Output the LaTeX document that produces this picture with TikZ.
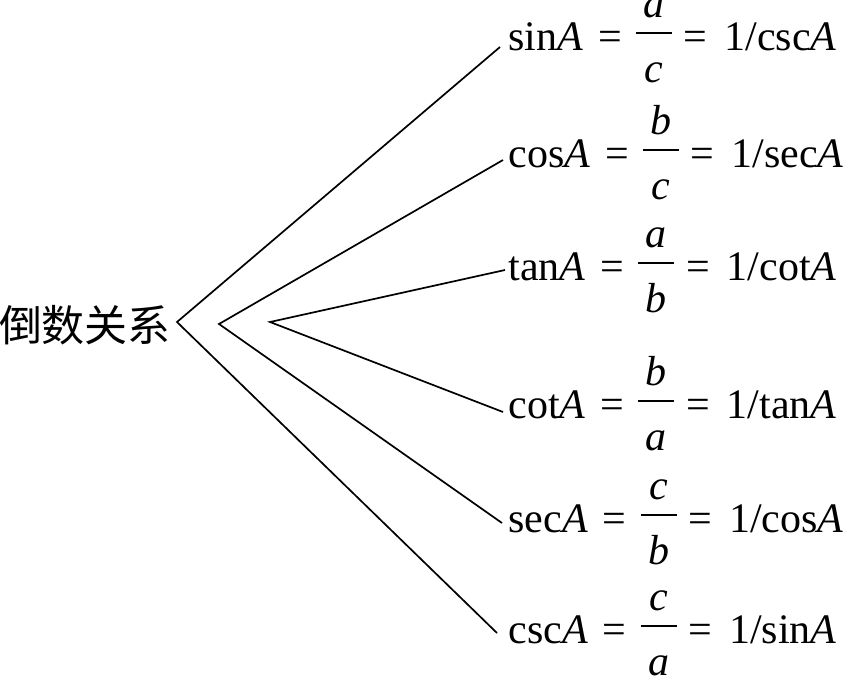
\documentclass[tikz,border=0pt]{standalone}
\usepackage{fontspec}
\setmainfont{Liberation Serif}
\newfontfamily\cjk{Noto Sans CJK SC}
\usetikzlibrary{calc}
\newcommand\myfr[2]{\rlap{\raisebox{16.5pt}{\makebox[18pt]{\itshape #1}}}\rlap{\raisebox{-16pt}{\makebox[18pt]{\itshape #2}}}\rule[8.1pt]{18pt}{0.9pt}}
\newcommand\trigrow[4]{#1\textit{A}\hspace{7.5pt}=\hspace{7pt}\myfr{#2}{#3}\hspace{6pt}=\hspace{8.5pt}1/#4\textit{A}}
\begin{document}
\begin{tikzpicture}[x=0.5pt,y=-0.5pt,
  formula/.style={anchor=base west,inner sep=0pt,font=\fontsize{21pt}{25pt}\selectfont},
  conn/.style={line width=0.85pt,line join=miter}]
\useasboundingbox (0,0) rectangle (843,676);
\node[inner sep=0pt,font=\cjk\fontsize{21.5pt}{24pt}\selectfont] (root) at (85,325) {倒数关系};
\node[formula] (f1) at (508,50)  {\trigrow{sin}{a}{c}{csc}};
\node[formula] (f2) at (508,167) {\trigrow{cos}{b}{c}{sec}};
\node[formula] (f3) at (508,280) {\trigrow{tan}{a}{b}{cot}};
\node[formula] (f4) at (508,418) {\trigrow{cot}{b}{a}{tan}};
\node[formula] (f5) at (508,532) {\trigrow{sec}{c}{b}{cos}};
\node[formula] (f6) at (508,643) {\trigrow{csc}{c}{a}{sin}};
\coordinate (v1) at (177,322);
\coordinate (v2) at (219,324);
\coordinate (v3) at (270,322);
\coordinate (e1) at ($(f1.base west)+(-8,-3)$);
\coordinate (e2) at ($(f2.base west)+(-5,-7)$);
\coordinate (e3) at ($(f3.base west)+(-3,-10)$);
\coordinate (e4) at ($(f4.base west)+(-5,-6)$);
\coordinate (e5) at ($(f5.base west)+(-6,-9)$);
\coordinate (e6) at ($(f6.base west)+(-11,-10)$);
\draw[conn] (e1) -- (v1) -- (e6);
\draw[conn] (e2) -- (v2) -- (e5);
\draw[conn] (e3) -- (v3) -- (e4);
\end{tikzpicture}
\end{document}
